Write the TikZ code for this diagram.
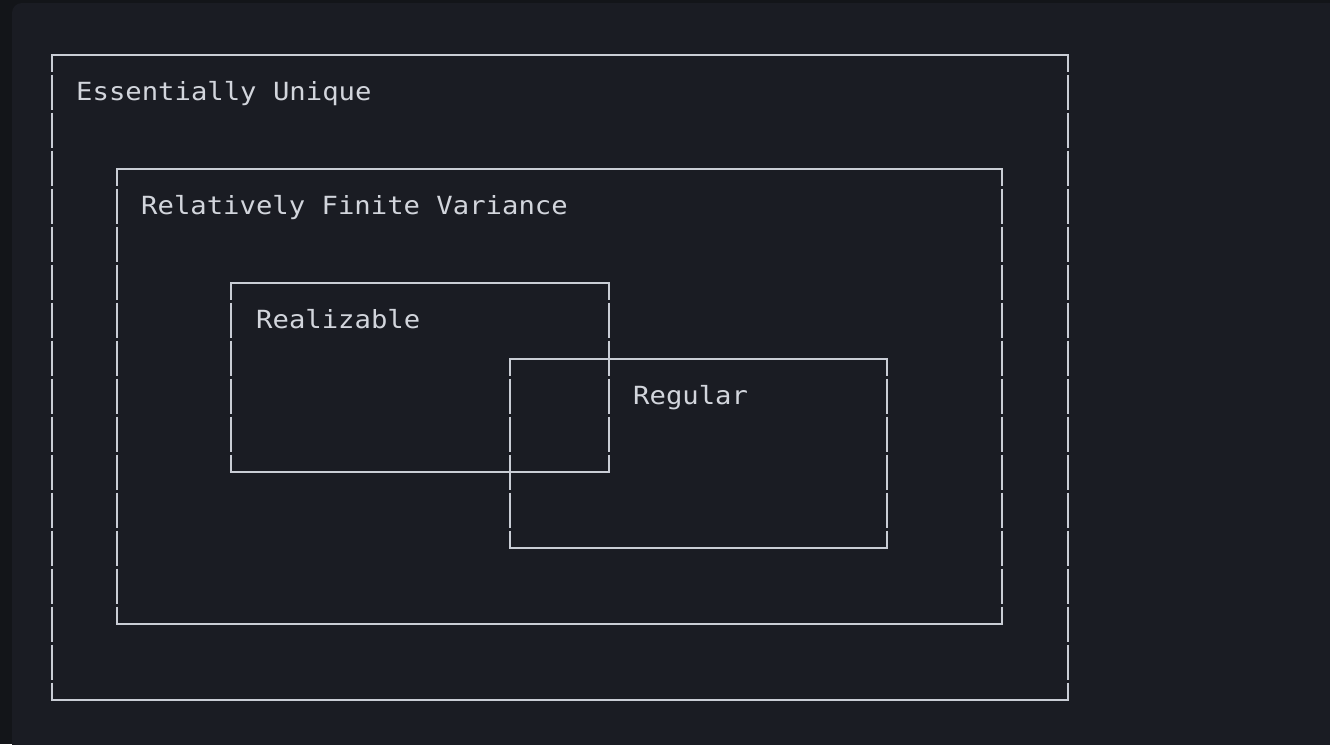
\documentclass[tikz,border=0pt]{standalone}
\usepackage{fontspec}
\newfontfamily\mono[FakeStretch=1.09]{DejaVu Sans Mono}
\definecolor{outerbg}{HTML}{131519}
\definecolor{panelbg}{HTML}{1A1C23}
\definecolor{linec}{HTML}{C9CDD5}
\definecolor{textc}{HTML}{D2D5DC}
\tikzset{
  setbox/.style={rectangle, draw=none, inner sep=0pt, outer sep=0pt},
  hedge/.style={draw=linec, line width=2.2pt, line cap=rect},
  vedge/.style={draw=linec, line width=2.2pt, dash pattern=on 35.5pt off 2.5pt, dash phase=18.5pt},
  lbl/.style={anchor=base west, inner sep=0pt, text=textc, font=\mono\fontsize{25}{30}\selectfont},
}
\begin{document}
\begin{tikzpicture}[x=1pt,y=-1pt]
\useasboundingbox (0,0) rectangle (1330,744);
\fill[outerbg] (0,0) rectangle (1330,744);
\fill[panelbg, rounded corners=10pt] (12,3) rectangle (1345,760);
% boxes as named nodes
\node[setbox, minimum width=1016pt, minimum height=645pt, anchor=north west] (eu) at (52,55) {};
\node[setbox, minimum width=885pt, minimum height=455pt, anchor=north west] (rfv) at (117,169) {};
\node[setbox, minimum width=378pt, minimum height=189pt, anchor=north west] (rea) at (231,283) {};
\node[setbox, minimum width=377pt, minimum height=189pt, anchor=north west] (reg) at (510,359) {};
\foreach \b in {eu,rfv,rea,reg}{
  \draw[vedge] (\b.north west) -- (\b.south west);
  \draw[vedge] (\b.north east) -- (\b.south east);
  \draw[hedge] (\b.north west) -- (\b.north east);
  \draw[hedge] (\b.south west) -- (\b.south east);
}
\node[lbl] (teu) at (76,100) {Essentially Unique};
\node[lbl] (trfv) at (141,214) {Relatively Finite Variance};
\node[lbl] (trea) at (256,328) {Realizable};
\node[lbl] (treg) at (633,404) {Regular};
\end{tikzpicture}
\end{document}
